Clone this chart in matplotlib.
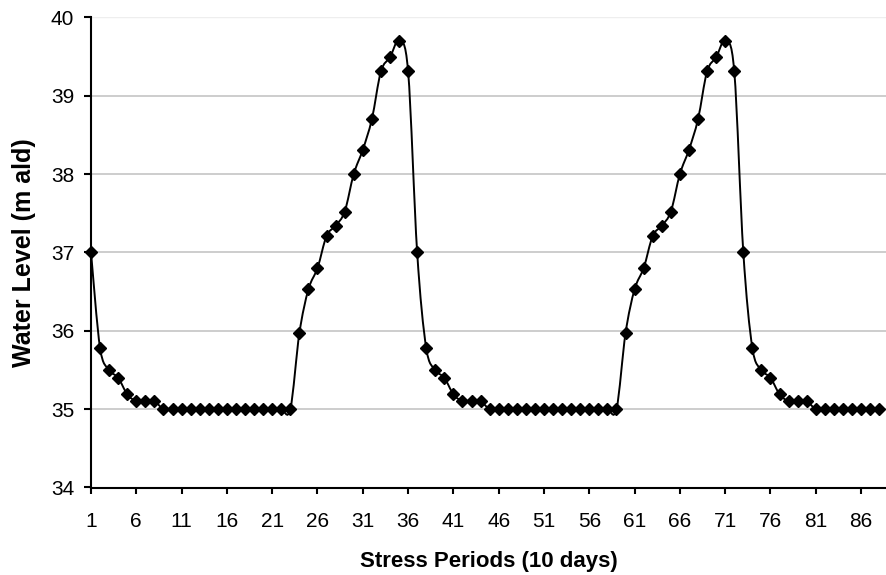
import numpy as np
import matplotlib
matplotlib.use("Agg")
import matplotlib.pyplot as plt
from matplotlib.path import Path
from matplotlib.patches import PathPatch

plt.rcParams['font.family'] = ['Liberation Sans', 'DejaVu Sans']

periods = list(range(1, 89))
water_level = [
    37.0, 35.78, 35.5, 35.4, 35.19, 35.1, 35.1, 35.1,
    35.0, 35.0, 35.0, 35.0, 35.0, 35.0, 35.0, 35.0, 35.0, 35.0, 35.0, 35.0, 35.0, 35.0, 35.0,
    35.97, 36.53, 36.8, 37.21, 37.34, 37.52, 38.0, 38.31, 38.7, 39.31, 39.49, 39.7,
    39.31, 37.0, 35.78, 35.5, 35.4, 35.19, 35.1, 35.1, 35.1,
    35.0, 35.0, 35.0, 35.0, 35.0, 35.0, 35.0, 35.0, 35.0, 35.0, 35.0, 35.0, 35.0, 35.0, 35.0,
    35.97, 36.53, 36.8, 37.21, 37.34, 37.52, 38.0, 38.31, 38.7, 39.31, 39.49, 39.7,
    39.31, 37.0, 35.78, 35.5, 35.4, 35.19, 35.1, 35.1, 35.1,
    35.0, 35.0, 35.0, 35.0, 35.0, 35.0, 35.0, 35.0,
]
x_ticks = list(range(1, 87, 5))
y_ticks = [34, 35, 36, 37, 38, 39, 40]

fig = plt.figure(figsize=(8.87, 5.75), dpi=100)
ax = fig.add_axes([91/887, (575-487.5)/575, 1 - 91/887, (487.5-17.3)/575])

# smoothed line (Bezier curve through the data points, like Excel's smoothed line)
xs = np.array(periods, dtype=float)
ys = np.array(water_level, dtype=float)
verts = [(xs[0], ys[0])]
codes = [Path.MOVETO]
n = len(xs)
for i in range(n - 1):
    p0 = (xs[max(i-1, 0)], ys[max(i-1, 0)])
    p1 = (xs[i], ys[i])
    p2 = (xs[i+1], ys[i+1])
    p3 = (xs[min(i+2, n-1)], ys[min(i+2, n-1)])
    c1 = (p1[0] + (p2[0]-p0[0])/6, p1[1] + (p2[1]-p0[1])/6)
    c2 = (p2[0] - (p3[0]-p1[0])/6, p2[1] - (p3[1]-p1[1])/6)
    verts += [c1, c2, p2]
    codes += [Path.CURVE4] * 3
patch = PathPatch(Path(verts, codes), facecolor='none', edgecolor='black', lw=1.4, zorder=3)
ax.add_patch(patch)
ax.plot(periods, water_level, linestyle='none', marker='D', markersize=6.3,
        color='black', zorder=4, clip_on=False)

ax.set_xlim(1, 1 + (887-91)/9.06)
ax.set_ylim(34, 40)
ax.set_xticks(x_ticks)
ax.set_xticklabels([str(t) for t in x_ticks])
ax.set_yticks(y_ticks)
ax.set_yticklabels([str(t) for t in y_ticks])

for y in y_ticks[1:-1]:
    ax.axhline(y, color='#c0c0c0', lw=1.1, zorder=1)
ax.axhline(40, color='#eeeeee', lw=1.0, zorder=1)

for s in ['top', 'right']:
    ax.spines[s].set_visible(False)
for s in ['left', 'bottom']:
    ax.spines[s].set_linewidth(1.5)
    ax.spines[s].set_color('black')
    ax.spines[s].set_zorder(5)

ax.tick_params(axis='y', direction='out', length=5, width=1.5, labelsize=15, pad=7)
ax.tick_params(axis='x', direction='out', length=4.5, width=1.5, labelsize=15, pad=13)

ax.set_xlabel('Stress Periods (10 days)', fontsize=16, fontweight='bold')
ax.set_ylabel('Water Level (m ald)', fontsize=18, fontweight='bold')
ax.xaxis.set_label_coords(0.5, (487.5-551)/470.2)
ax.yaxis.set_label_coords((36-91)/796, 0.5)

fig.savefig('out.png', dpi=100)
